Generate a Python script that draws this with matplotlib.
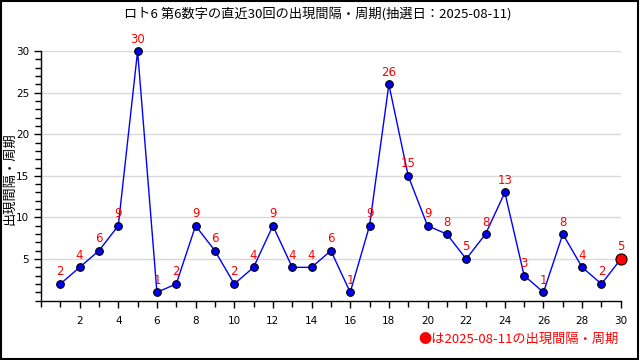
import matplotlib
matplotlib.use("Agg")
import matplotlib.pyplot as plt
from matplotlib.patches import Rectangle
from matplotlib.ticker import MultipleLocator

plt.rcParams['font.family'] = ['Noto Sans CJK JP', 'DejaVu Sans']

draws = list(range(1, 31))
intervals = [2, 4, 6, 9, 30, 1, 2, 9, 6, 2, 4, 9, 4, 4, 6, 1, 9, 26, 15, 9,
             8, 5, 8, 13, 3, 1, 8, 4, 2, 5]
title = "ロト6 第6数字の直近30回の出現間隔・周期(抽選日：2025-08-11)"
ylabel = "出現間隔・周期"
note = "●は2025-08-11の出現間隔・周期"
xticks = list(range(2, 31, 2))
yticks = [5, 10, 15, 20, 25, 30]

fig = plt.figure(figsize=(6.4, 3.6), dpi=100)
fig.patches.append(Rectangle((0.0015, 0.002), 0.996, 0.995, transform=fig.transFigure,
                             fill=False, edgecolor='black', linewidth=1.5))
ax = fig.add_axes([0.064, 0.165, 0.906, 0.693])
ax.set_xlim(0, 30)
ax.set_ylim(0, 30)

for y in yticks:
    ax.axhline(y, color='#d9d9d9', linewidth=1, zorder=0)

ax.plot(draws, intervals, color='#0000ff', linewidth=1, zorder=2)
ax.plot(draws[:-1], intervals[:-1], 'o', color='#0000ee', markeredgecolor='black',
        markeredgewidth=0.8, markersize=5.5, zorder=3, clip_on=False)
ax.plot(draws[-1:], intervals[-1:], 'o', color='#ff0000', markeredgecolor='black',
        markeredgewidth=0.8, markersize=8, zorder=4, clip_on=False)
for x, v in zip(draws, intervals):
    ax.annotate(str(v), (x, v), xytext=(0, 4), textcoords='offset points',
                ha='center', va='bottom', color='#ff0000', fontsize=8.5,
                family=['DejaVu Sans'], clip_on=False)

for s in ['top', 'right']:
    ax.spines[s].set_visible(False)
ax.spines['left'].set_linewidth(1)
ax.spines['bottom'].set_linewidth(1)

ax.set_xticks(xticks)
ax.set_yticks(yticks)
ax.xaxis.set_minor_locator(MultipleLocator(1))
ax.yaxis.set_minor_locator(MultipleLocator(1))
ax.tick_params(axis='both', which='major', direction='out', length=5, width=1,
               labelsize=7.5, colors='black')
ax.tick_params(axis='both', which='minor', direction='out', length=4, width=1)
ax.tick_params(axis='x', which='major', pad=6)
for lab in ax.get_xticklabels() + ax.get_yticklabels():
    lab.set_family(['DejaVu Sans'])

fig.text(0.497, 0.962, title, ha='center', va='center', fontsize=9.5)
fig.text(0.016, 0.505, ylabel, ha='center', va='center', rotation=90, fontsize=9.5)
fig.text(0.967, 0.058, note, ha='right', va='center', color='#ff0000', fontsize=9.5)

fig.savefig('out.png', dpi=100)
